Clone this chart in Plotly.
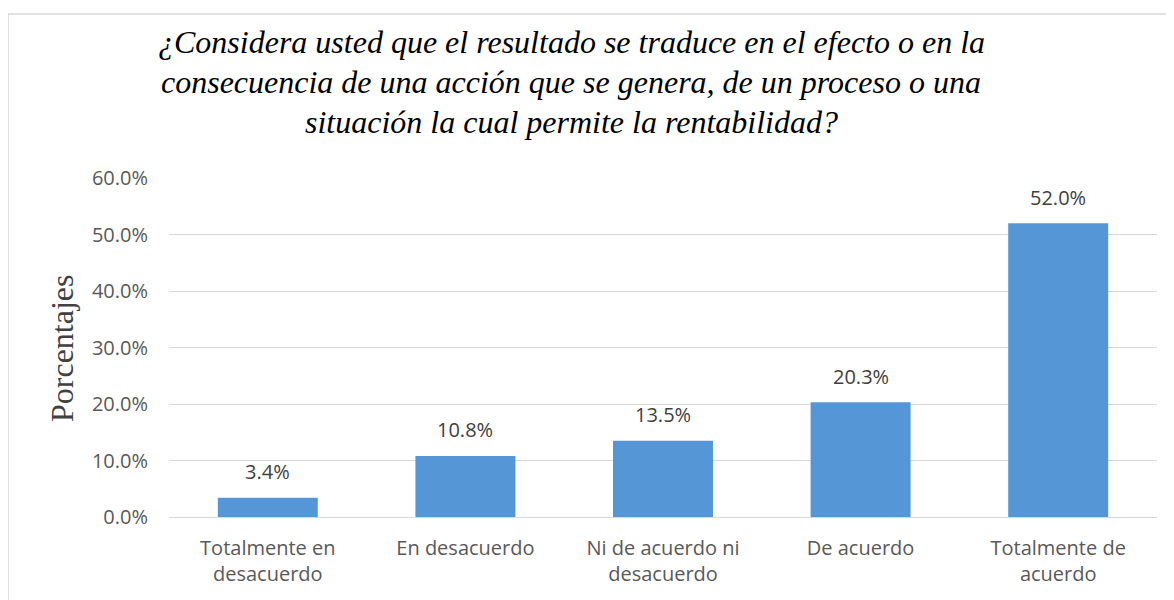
import plotly.graph_objects as go

# Categories and percentages
categorias = [
    "Totalmente en<br>desacuerdo",
    "En desacuerdo",
    "Ni de acuerdo ni<br>desacuerdo",
    "De acuerdo",
    "Totalmente de<br>acuerdo",
]
porcentajes = [0.034, 0.108, 0.135, 0.203, 0.520]
tick_vals = [0.0, 0.1, 0.2, 0.3, 0.4, 0.5, 0.6]
titulo = [
    "¿Considera usted que el resultado se traduce en el efecto o en la",
    "consecuencia de una acción que se genera, de un proceso o una",
    "situación la cual permite la rentabilidad?",
]

# page is drawn with an 8px body margin, so work in shifted pixels
OFF = 8
W, H = 1174 - OFF, 600 - OFF
L, R, T, B = 169 - OFF, 17, 178 - OFF, 83
pw, ph = W - L - R, H - T - B


def px_x(x):
    return (x - OFF - L) / pw


def px_y(y):
    return (H - B - (y - OFF)) / ph


fig = go.Figure()
fig.add_bar(
    x=categorias,
    y=porcentajes,
    marker=dict(color="#5597d6", line=dict(width=0)),
    width=0.506,
    showlegend=False,
)

# data labels above bars
for c, v in zip(categorias, porcentajes):
    fig.add_annotation(
        x=c, y=v, text=f"{v * 100:.1f}%", showarrow=False, yshift=26,
        font=dict(family="Open Sans", size=20, color="#404040"),
    )

# title lines
for i, linea in enumerate(titulo):
    fig.add_annotation(
        xref="paper", yref="paper", x=px_x(571), y=px_y(42 + 40 * i),
        text="<i>" + linea + "</i>", showarrow=False,
        xanchor="center", yanchor="middle",
        font=dict(family="Liberation Serif", size=32, color="#000000"),
    )

# y axis title
fig.add_annotation(
    xref="paper", yref="paper", x=px_x(62), y=px_y(348),
    text="Porcentajes", textangle=-90, showarrow=False,
    xanchor="center", yanchor="middle",
    font=dict(family="Liberation Serif", size=32, color="#404040"),
)

# chart border
fig.add_shape(
    type="rect", xref="paper", yref="paper",
    x0=px_x(8), x1=px_x(1190), y0=px_y(620), y1=px_y(14),
    line=dict(color="#d9d9d9", width=1.5), fillcolor="rgba(0,0,0,0)",
    layer="below",
)

fig.update_layout(
    width=W, height=H,
    margin=dict(l=L, r=R, t=T, b=B),
    paper_bgcolor="white", plot_bgcolor="white",
    font=dict(family="Open Sans", size=20, color="#595959"),
    xaxis=dict(
        showgrid=False, showline=False, ticks="",
        ticklabelstandoff=17,
        tickfont=dict(family="Open Sans", size=20, color="#595959"),
    ),
    yaxis=dict(
        range=[0, 0.6], tickvals=tick_vals, tickformat=".1%",
        showgrid=True, gridcolor="#d9d9d9", gridwidth=1,
        zeroline=True, zerolinecolor="#d9d9d9", zerolinewidth=1,
        showline=False, ticks="", ticklabelstandoff=20,
        tickfont=dict(family="Open Sans", size=20, color="#595959"),
    ),
)

fig.write_html("out.html")
